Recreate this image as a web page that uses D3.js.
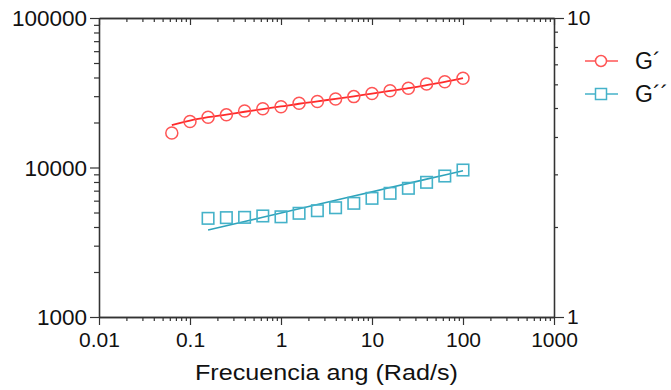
<!DOCTYPE html>
<html><head><meta charset="utf-8">
<script src="https://cdn.jsdelivr.net/npm/d3@7"></script>
<style>body{margin:0;background:#fff}svg{display:block}text{font-family:"Liberation Sans",Arial,sans-serif}</style>
</head><body><svg id="c" width="671" height="390"></svg>
<script>
// ---- data ----
const gpFreq = [0.0631,0.1,0.158,0.251,0.398,0.631,1,1.58,2.51,3.98,6.31,10,15.8,25.1,39.8,63.1,100];
const gpValues = [17000,20300,21700,22500,23900,24700,25500,26900,27600,28700,29800,31300,32600,33900,36200,37500,39500];
const gpFit = [19200,20600,21700,22600,23600,24600,25600,26700,27700,28800,29900,31200,32500,33900,35600,37400,39600];
const gppFreq = [0.158,0.251,0.398,0.631,1,1.58,2.51,3.98,6.31,10,15.8,25.1,39.8,63.1,100];
const gppValues = [4570,4620,4640,4740,4680,4940,5140,5380,5760,6220,6720,7260,7960,8770,9620];
const gppFit = [3820,4080,4350,4650,4960,5290,5650,6030,6440,6870,7340,7830,8360,8920,9520];
const xTicks = [0.01,0.1,1,10,100,1000];
const yTicks = [1000,10000,100000];
const y2Ticks = [1,10];
const legendLabels = ["G\u00B4","G\u00B4\u00B4"];

const svg = d3.select("#c");
const L=99,R=554,T=18,B=317;
const x = d3.scaleLog().domain([0.01,1000]).range([L,R]);
const y = d3.scaleLog().domain([1000,100000]).range([B,T]);
const y2 = d3.scaleLog().domain([1,10]).range([B,T]);
const axisColor="#333";

function minors(lo,hi){const a=[];for(let d=lo;d<hi;d*=10){for(let m=2;m<=9;m++)a.push(d*m);}return a;}

function drawAxis(gen, scale, major, minorVals, tr, majSize, minSize, labels, fs){
  const gMin = svg.append("g").attr("transform",tr)
    .call(gen(scale).tickValues(minorVals).tickSize(minSize).tickSizeOuter(0).tickFormat(""));
  const gMaj = svg.append("g").attr("transform",tr)
    .call(gen(scale).tickValues(major).tickSize(majSize).tickSizeOuter(0).tickPadding(3)
      .tickFormat(labels? (d=>String(d)) : ""));
  [gMin,gMaj].forEach(g=>{
    g.select(".domain").attr("stroke",axisColor).attr("stroke-width",1.3);
    g.selectAll(".tick line").attr("stroke",axisColor).attr("stroke-width",1.2);
    g.selectAll("text").attr("fill","#111").style("font-size",fs||"21px").attr("font-family","Liberation Sans, Arial, sans-serif");
  });
  return gMaj;
}
// bottom
drawAxis(d3.axisBottom, x, xTicks, minors(0.01,1000), `translate(0,${B})`, 8, 4, true, "21px")
  .selectAll("text").attr("dy","0.9em");
// top (inward)
drawAxis(d3.axisBottom, x, xTicks, minors(0.01,1000), `translate(0,${T})`, 7, 4, false);
// left
drawAxis(d3.axisLeft, y, yTicks, minors(1000,100000), `translate(${L},0)`, 9, 5, true, "22.5px")
  .selectAll("text").attr("dy","0.35em");
// right
drawAxis(d3.axisRight, y2, y2Ticks, minors(1,10), `translate(${R},0)`, 10, 4, true, "21px")
  .selectAll("text").attr("dy","0.32em");

// x title
svg.append("text").attr("x",(L+R)/2).attr("y",380).attr("text-anchor","middle")
  .attr("textLength",263).attr("lengthAdjust","spacingAndGlyphs")
  .style("font-size","22px").attr("fill","#111").text("Frecuencia ang (Rad/s)");

const red="#ff2a2a", redM="#ff5555", teal="#2ea3bb", tealM="#45b2c9";
const line = d3.line().x(d=>x(d[0])).y(d=>y(d[1]));

// G' fit
svg.append("path").datum(gpFreq.map((f,i)=>[f,gpFit[i]])).attr("d",line.curve(d3.curveMonotoneX))
  .attr("fill","none").attr("stroke",red).attr("stroke-width",1.8);
svg.selectAll(".gp").data(gpFreq).enter().append("circle")
  .attr("cx",d=>x(d)).attr("cy",(d,i)=>y(gpValues[i])).attr("r",6)
  .attr("fill","none").attr("stroke",redM).attr("stroke-width",1.5);

// G'' fit
svg.append("path").datum(gppFreq.map((f,i)=>[f,gppFit[i]])).attr("d",d3.line().x(d=>x(d[0])).y(d=>y(d[1])))
  .attr("fill","none").attr("stroke",teal).attr("stroke-width",1.6);
const s=11.5;
svg.selectAll(".gpp").data(gppFreq).enter().append("rect")
  .attr("x",d=>x(d)-s/2).attr("y",(d,i)=>y(gppValues[i])-s/2).attr("width",s).attr("height",s)
  .attr("fill","none").attr("stroke",tealM).attr("stroke-width",1.6);

// legend
const lg=[{y:61,c:red,m:redM,t:"circle"},{y:94,c:teal,m:tealM,t:"rect"}];
lg.forEach((e,i)=>{
  svg.append("line").attr("x1",585).attr("x2",618).attr("y1",e.y).attr("y2",e.y)
    .attr("stroke",e.m).attr("stroke-width",1.6);
  if(e.t==="circle") svg.append("circle").attr("cx",601).attr("cy",e.y).attr("r",5.5)
    .attr("fill","#fff").attr("stroke",e.m).attr("stroke-width",1.5);
  else svg.append("rect").attr("x",601-5.5).attr("y",e.y-5.5).attr("width",11).attr("height",11)
    .attr("fill","#fff").attr("stroke",e.m).attr("stroke-width",1.5);
  svg.append("text").attr("x",635).attr("y",e.y).attr("dy","0.36em").style("font-size","23px")
    .attr("fill","#111").text(legendLabels[i]);
});
</script></body></html>
